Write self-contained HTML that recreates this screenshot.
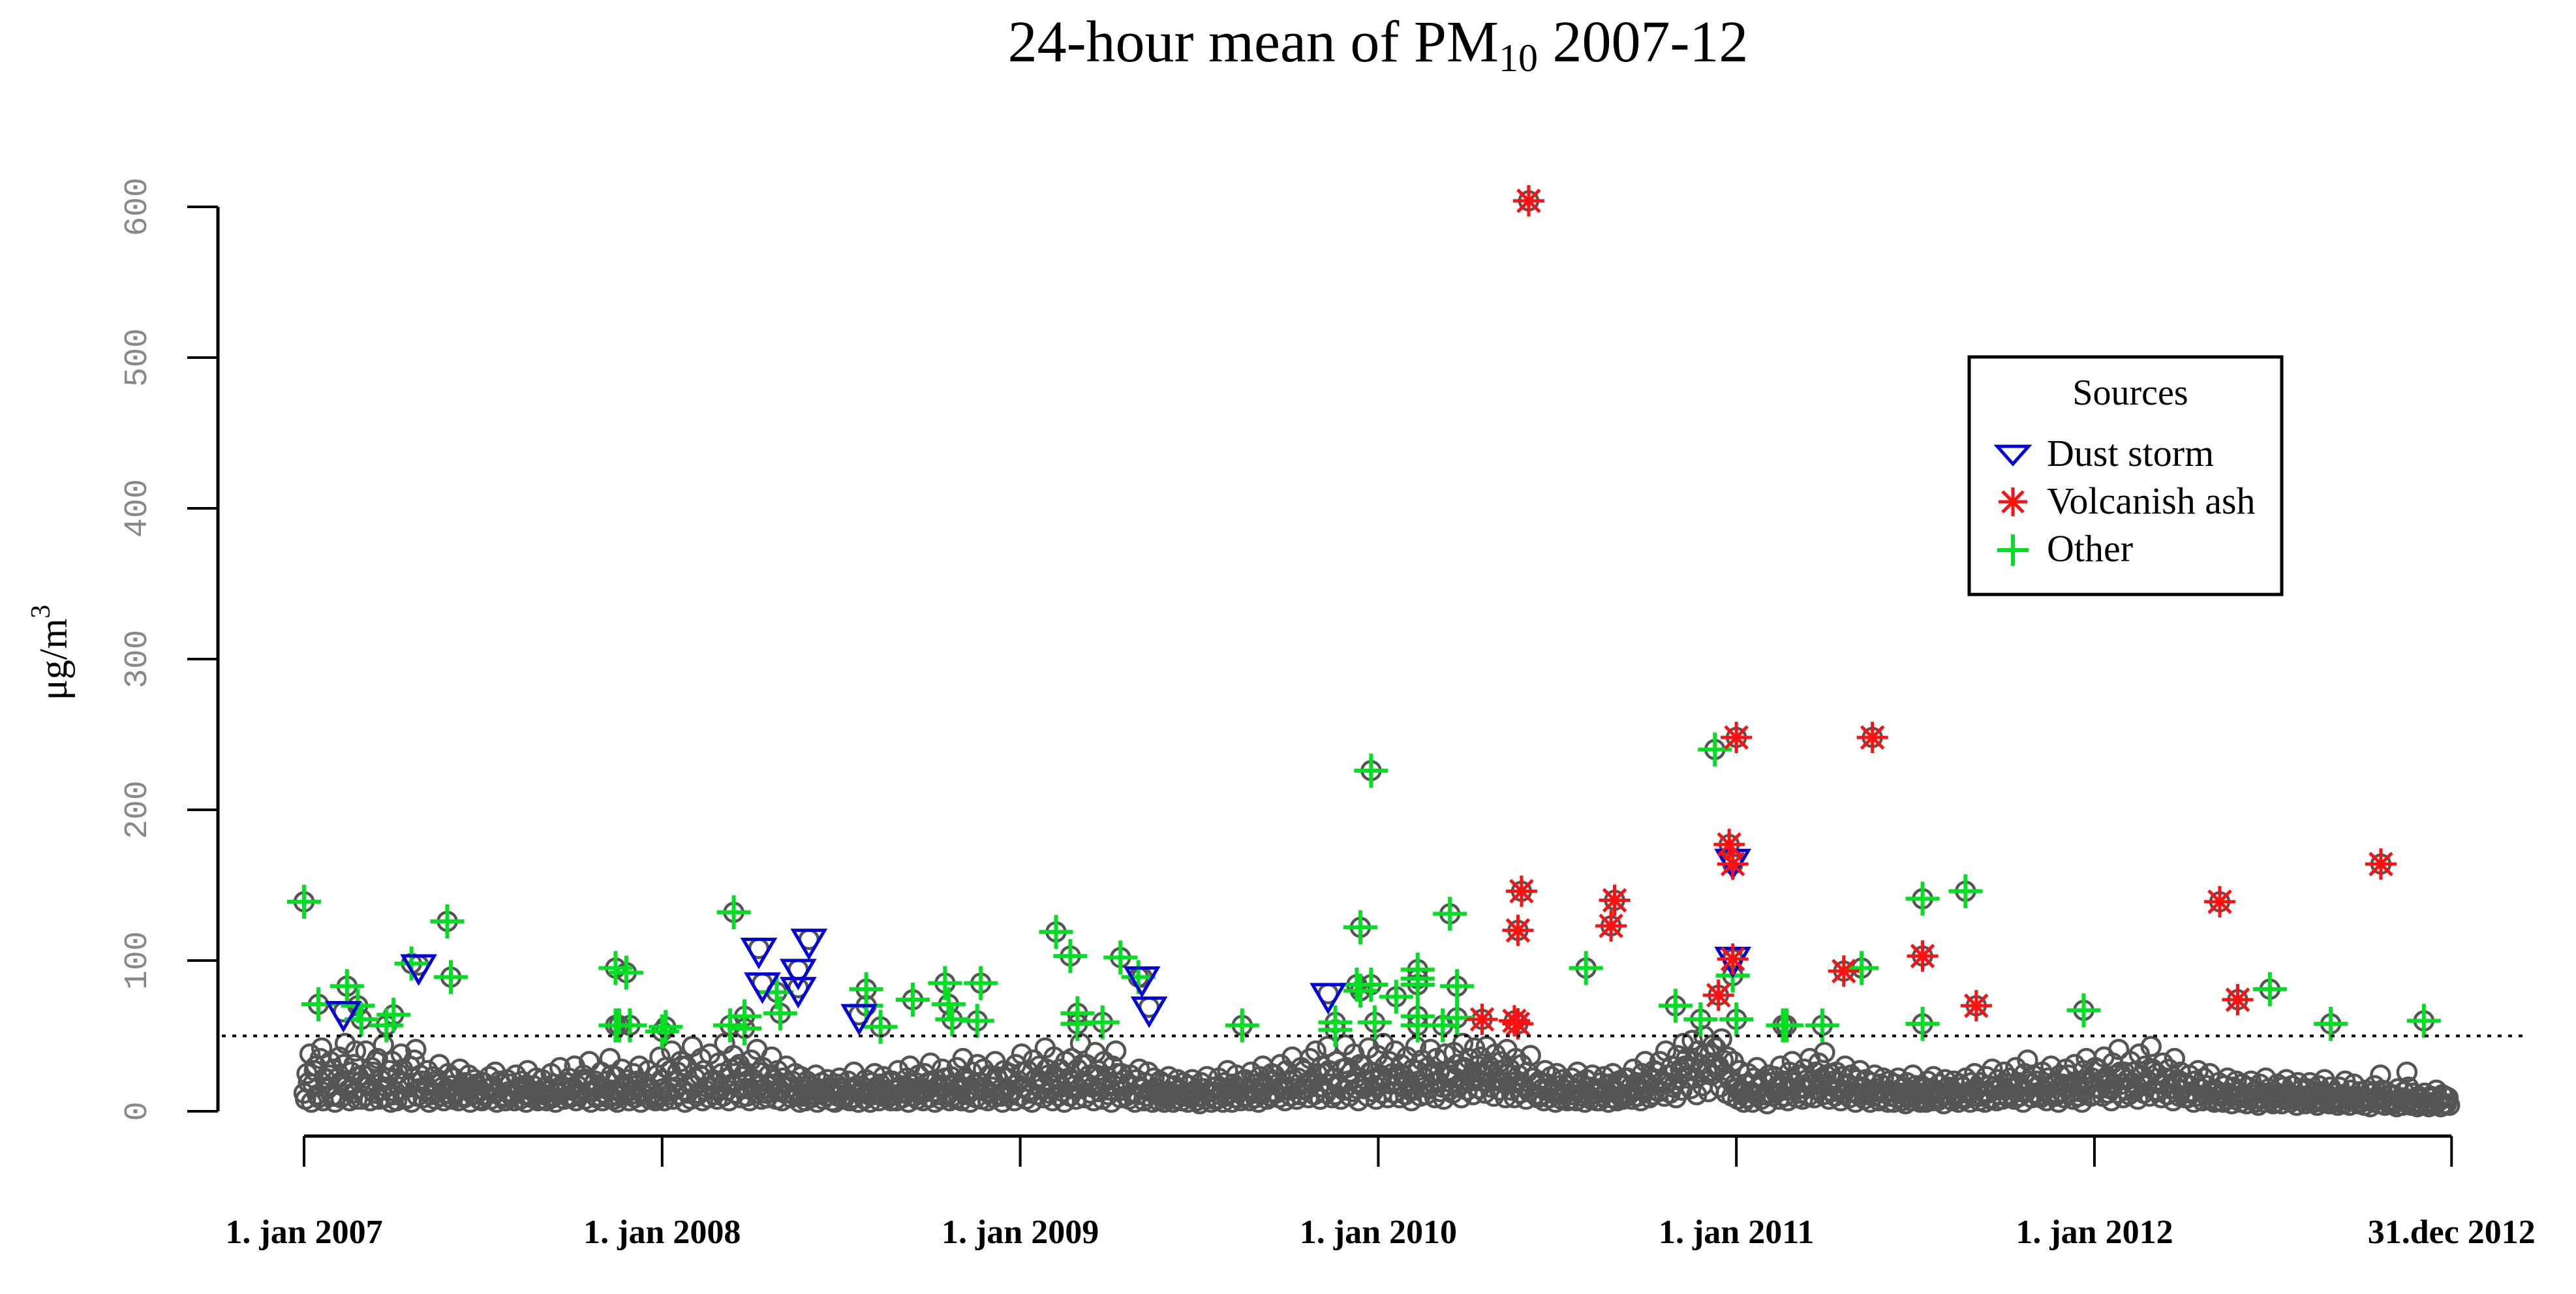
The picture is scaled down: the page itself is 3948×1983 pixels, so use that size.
<!DOCTYPE html>
<html><head><meta charset="utf-8"><style>
html,body{margin:0;padding:0;background:#fff}
svg{display:block}
</style></head><body>
<svg id="chart" xmlns="http://www.w3.org/2000/svg" width="3948" height="1983" viewBox="0 0 3948 1983">
<rect width="3948" height="1983" fill="#fff"/>
<text x="2112" y="94" text-anchor="middle" font-family="Liberation Serif, serif" font-size="90" fill="#000">24-hour mean of PM<tspan font-size="60" dy="15">10</tspan><tspan dy="-15"> 2007-12</tspan></text>
<text transform="translate(102,1000) rotate(-90)" text-anchor="middle" font-family="Liberation Serif, serif" font-size="60" fill="#000">μg/m<tspan font-size="42" dy="-26">3</tspan></text>
<g id="grey"></g>
<g id="green"></g>
<g id="blue"></g>
<g id="red"></g>
<g id="axes"></g>
<g>
<rect x="3018" y="547" width="479" height="364" fill="#fff" stroke="#000" stroke-width="5"/>
<text x="3265" y="620" text-anchor="middle" font-family="Liberation Serif, serif" font-size="56">Sources</text>
<g>
<polygon points="3061,684 3109,684 3085,711" fill="none" stroke="#0000dd" stroke-width="5"/>
<text x="3137" y="714" font-family="Liberation Serif, serif" font-size="58">Dust storm</text></g>
<g>
<path d="M3063,769H3107M3085,747V791M3069,753L3101,785M3101,753L3069,785" stroke="#ff1010" stroke-width="5"/>
<text x="3137" y="787" font-family="Liberation Serif, serif" font-size="58">Volcanish ash</text></g>
<g>
<path d="M3061,843H3109M3085,819V867" stroke="#00e020" stroke-width="6"/>
<text x="3137" y="860" font-family="Liberation Serif, serif" font-size="58">Other</text></g>
</g>
</svg>
<script>
// ---- data ----
const greyValues = [
12,25,38,18,30,9,42,22,15,33, 28,10,36,20,45,14,26,31,8,19, 24,40,17,29,12,35,21,44,16,27, 33,13,25,38,19,9,30,22,41,15,
20,14,27,11,23,18,31,16,12,25, 17,22,13,28,10,19,24,15,21,12, 14,19,11,23,16,26,13,18,10,21, 18,12,24,15,20,11,27,14,17,22,
13,21,16,10,25,18,12,29,15,19, 22,14,30,17,11,24,19,33,13,20, 16,26,12,20,35,14,23,10,28,18, 21,11,25,17,30,13,19,27,15,9,
24,36,15,29,11,40,20,26,33,14, 30,18,43,22,12,35,27,16,38,21, 19,32,25,45,14,28,37,20,31,23, 26,15,34,21,41,17,29,12,24,36,
18,27,13,22,30,16,20,25,11,23, 14,20,17,11,24,15,19,13,21,16, 12,18,22,15,10,20,14,26,17,13, 16,21,11,19,25,14,18,23,12,20,
20,14,27,17,12,22,30,15,19,24, 15,25,19,32,13,21,16,28,22,11, 23,17,29,14,35,20,12,26,18,31, 19,28,13,24,16,33,21,10,27,22,
25,14,31,20,38,16,27,12,34,22, 30,19,42,24,15,36,21,28,13,33, 22,35,17,28,45,20,31,24,16,39, 27,18,33,23,14,30,40,19,25,21,
17,24,12,21,28,15,19,26,13,22, 15,20,13,18,23,11,17,21,14,19, 12,17,21,14,10,19,15,23,13,16, 16,22,13,19,27,12,18,24,15,20,
21,15,26,18,12,23,30,16,20,25, 24,18,31,14,27,20,36,15,22,29, 27,19,35,22,40,16,30,25,43,18, 22,33,17,28,44,20,26,38,15,31,
30,21,42,26,17,37,24,45,19,33, 25,40,18,31,23,36,14,28,43,20, 34,22,29,41,19,35,26,16,38,27, 24,39,31,18,45,28,35,22,42,30,
36,25,43,30,20,38,27,33,19,41, 28,19,35,24,31,16,26,37,22,18, 20,15,27,18,23,13,25,17,21,14, 17,22,14,26,19,12,21,16,24,15,
15,19,23,13,18,25,14,20,17,22, 22,16,28,19,14,25,33,18,21,27, 26,33,20,40,24,30,18,37,28,45, 35,28,47,22,40,31,50,26,38,44,
42,30,48,25,36,20,33,15,27,12, 18,25,13,22,29,16,21,11,24,19, 23,17,30,20,14,26,33,19,24,16, 28,21,35,18,26,32,22,39,17,25,
20,26,15,23,30,18,24,13,21,27, 16,21,13,19,24,15,18,22,12,20, 13,18,22,15,11,19,14,24,17,12, 17,12,20,15,23,14,18,11,21,16,
14,20,12,18,16,22,13,19,25,15, 19,13,23,17,28,14,21,16,26,18, 22,16,29,19,13,25,34,18,24,20, 17,26,14,22,30,19,12,24,18,28,
24,16,31,20,13,27,35,19,22,29, 28,20,36,23,15,32,24,41,18,26, 21,33,26,17,38,24,30,20,43,27, 25,18,32,22,28,15,35,21,26,19,
18,24,13,20,27,15,22,17,25,12, 14,19,12,17,22,11,16,20,13,18, 11,16,20,13,9,18,12,22,15,10, 13,18,10,16,21,12,17,9,19,14,
10,15,19,12,8,17,13,21,11,16, 12,8,16,11,20,9,14,18,10,13, 9,14,7,12,17,10,24,8,13,11, 11,7,15,9,13,26,8,12,6,10,
8,12,6,10,9,14,7,11,10,9];
const greyValuesB = [
8,19,6,27,11,35,7,16,24,10, 6,22,9,31,17,7,12,40,23,8, 10,18,7,26,33,8,14,9,22,6, 11,7,20,28,8,16,6,34,10,24,
9,17,6,13,8,21,10,7,15,9, 8,12,7,17,9,14,6,11,18,8, 7,10,15,8,12,6,20,9,7,13, 10,7,14,8,17,6,11,9,13,7,
8,11,7,14,9,6,12,17,8,10, 9,16,7,12,21,8,13,6,18,9, 10,7,15,9,24,8,6,13,11,16, 7,14,9,20,6,11,16,8,12,7,
9,21,7,13,27,8,16,11,30,6, 12,8,17,10,24,7,14,9,20,11, 8,14,10,22,7,18,12,29,9,15, 10,7,19,12,26,8,15,9,13,21,
8,15,7,12,19,9,11,14,6,10, 7,11,9,14,6,12,8,10,15,7, 6,10,13,8,11,7,9,15,6,12, 8,13,6,11,16,7,10,14,9,7,
11,7,15,9,13,6,18,10,8,12, 7,13,9,20,6,11,8,16,12,7, 10,8,16,7,22,11,6,14,9,19, 8,15,7,12,9,23,11,6,14,10,
12,7,18,10,26,8,14,6,21,11, 15,9,28,12,7,22,10,16,6,19, 10,20,8,15,31,9,18,12,7,24, 13,8,20,11,6,17,25,9,14,10,
8,12,6,11,16,7,10,14,6,12, 7,10,6,9,13,6,8,11,7,10, 6,9,12,7,5,10,8,13,6,8, 8,11,6,10,15,6,9,13,7,10,
10,7,14,9,6,12,18,8,10,13, 12,9,17,7,14,10,21,8,11,15, 14,9,20,11,25,8,16,12,27,9, 11,18,8,14,29,10,13,22,7,17,
15,10,26,13,8,21,12,30,9,18, 12,24,9,16,11,20,7,14,27,10, 18,11,15,26,9,20,13,8,23,14, 12,22,16,9,29,14,20,11,26,15,
20,12,27,16,10,22,14,19,9,25, 14,9,20,12,17,8,13,22,11,9, 10,7,14,9,12,6,13,8,11,7, 8,11,7,14,10,6,11,8,12,7,
7,10,12,6,9,13,7,10,8,11, 11,8,15,10,7,13,19,9,11,14, 13,19,10,24,12,16,9,22,14,30, 22,15,33,11,26,17,38,13,24,31,
28,16,34,12,22,10,18,8,14,6, 9,13,6,11,16,8,11,5,12,10, 12,8,16,10,7,14,19,9,12,8, 15,10,20,9,14,18,11,24,8,13,
10,14,7,12,17,9,13,6,11,15, 8,11,6,10,13,7,9,12,6,10, 6,9,12,7,5,10,7,13,8,6, 8,6,10,7,12,7,9,5,11,8,
7,10,6,9,8,12,6,10,14,7, 10,6,12,8,16,7,11,8,14,9, 11,8,16,10,6,13,20,9,12,10, 9,14,7,11,17,10,6,13,9,16,
12,8,17,10,6,14,21,10,11,16, 15,10,20,12,7,18,12,26,9,14, 11,19,14,8,23,12,17,10,28,14, 13,9,18,11,15,7,20,10,14,9,
9,12,6,10,15,7,11,8,13,6, 7,10,6,8,12,5,8,10,6,9, 5,8,11,6,4,9,6,12,7,5, 6,9,5,8,11,6,8,4,10,7,
5,7,10,6,4,8,6,11,5,8, 6,4,8,5,10,4,7,9,5,6, 4,7,3,6,9,5,14,4,6,5, 5,3,8,4,6,16,4,6,3,5,
4,6,3,5,4,7,3,5,5,4];
const greyStepDays = 3;

const otherDates = [2007.00,2007.04,2007.12,2007.15,2007.16,2007.23,2007.25,2007.30,2007.40,2007.41,2007.87,2007.88,2007.90,2007.87,2007.91,2008.01,2008.00,2008.19,2008.20,2008.23,2008.23,2008.32,2008.33,2008.57,2008.57,2008.61,2008.70,2008.79,2008.80,2008.81,2008.88,2008.89,
2009.10,2009.14,2009.16,2009.16,2009.23,2009.28,2009.33,2009.62,2009.88,2009.88,2009.94,2009.95,2009.95,2009.98,2009.98,2009.99,2010.05,2010.11,2010.11,2010.11,2010.11,2010.11,2010.18,2010.20,2010.22,2010.22,2010.58,2010.83,2010.90,2010.94,2010.99,2011.00,2011.13,2011.14,2011.24,2011.35,2011.52,2011.52,2011.64,2011.97,2012.49,2012.66,2012.92];
const otherValues = [139,71,83,70,61,57,64,98,126,89,95,57,92,57,57,56,53,57,132,63,55,79,65,81,70,56,74,85,71,61,60,85,
119,103,65,58,59,102,89,57,59,54,84,122,80,84,226,59,76,94,88,84,63,57,57,131,83,62,95,70,61,240,90,61,57,57,57,95,141,58,146,67,81,58,60];

const dustDates = [2007.11,2007.32,2008.27,2008.41,2008.28,2008.38,2008.38,2008.55,2009.34,2009.36,2009.86,2010.99,2010.99];
const dustValues = [66,97,108,114,85,94,82,64,89,69,78,167,102];

const ashDates = [2010.29,2010.38,2010.39,2010.40,2010.39,2010.42,2010.66,2010.65,2010.95,2010.98,2010.99,2010.99,2011.00,2011.30,2011.38,2011.52,2011.67,2012.35,2012.40,2012.80];
const ashValues = [61,60,58,146,120,604,140,123,77,177,164,101,248,93,248,103,70,139,74,164];

const yTicks = [0,100,200,300,400,500,600];
const xTickDates = [2007,2008,2009,2010,2011,2012,2012.9973];
const xTickLabels = ["1. jan 2007","1. jan 2008","1. jan 2009","1. jan 2010","1. jan 2011","1. jan 2012","31.dec 2012"];
const threshold = 50;

// ---- scales ----
const X0=466, X1=3758, Y0=1703, Y600=317;
function xScale(t){ return X0 + (t-2007)/(2191/365.25)*(X1-X0); }
function yScale(v){ return Y0 - v*(Y0-Y600)/600; }
const NS="http://www.w3.org/2000/svg";
function mk(tag, attrs, parent){ const e=document.createElementNS(NS,tag); for(const k in attrs) e.setAttribute(k,attrs[k]); parent.appendChild(e); return e; }

const gGrey=document.getElementById('grey'), gGreen=document.getElementById('green'),
      gBlue=document.getElementById('blue'), gRed=document.getElementById('red'), gAx=document.getElementById('axes');

function circle(t,v){
  const c=mk('circle',{cx:xScale(t),cy:yScale(v),r:14,fill:'none',stroke:'#555','stroke-width':4.5},gGrey);
  
  
}
greyValues.forEach((v,i)=>circle(2007+i*greyStepDays/365.25, v));
greyValuesB.forEach((v,i)=>circle(2007+(i*greyStepDays+1.5)/365.25, v));
otherDates.forEach((t,i)=>circle(t,otherValues[i]));
dustDates.forEach((t,i)=>circle(t,dustValues[i]));
ashDates.forEach((t,i)=>circle(t,ashValues[i]));

otherDates.forEach((t,i)=>{
  const x=xScale(t), y=yScale(otherValues[i]);
  const p=mk('path',{d:`M${x-26},${y}H${x+26}M${x},${y-26}V${y+26}`,stroke:'#00e020','stroke-width':6},gGreen);
  
  
});
dustDates.forEach((t,i)=>{
  const x=xScale(t), y=yScale(dustValues[i]);
  const p=mk('polygon',{points:`${x-24},${y-14} ${x+24},${y-14} ${x},${y+27}`,fill:'none',stroke:'#0000dd','stroke-width':5},gBlue);
  
  
});
ashDates.forEach((t,i)=>{
  const x=xScale(t), y=yScale(ashValues[i]);
  const p=mk('path',{d:`M${x-24},${y}H${x+24}M${x},${y-24}V${y+24}M${x-17},${y-17}L${x+17},${y+17}M${x+17},${y-17}L${x-17},${y+17}`,stroke:'#ff1010','stroke-width':5},gRed);
  
  
});

// threshold line
const th=mk('line',{x1:340,x2:3870,y1:yScale(threshold),y2:yScale(threshold),stroke:'#000','stroke-width':4,'stroke-dasharray':'6 10'},gAx);



// y axis
const ya=mk('line',{x1:334,x2:334,y1:yScale(600),y2:yScale(0),stroke:'#000','stroke-width':5},gAx);


yTicks.forEach(v=>{
  const y=yScale(v);
  const tk=mk('line',{x1:287,x2:334,y1:y,y2:y,stroke:'#000','stroke-width':4},gAx);
  
  
  const tx=mk('text',{transform:`translate(224,${y}) rotate(-90)`,'text-anchor':'middle','font-family':'Liberation Mono, monospace','font-size':50,fill:'#888'},gAx);
  tx.textContent=String(v);
  
  
});

// x axis
const xa=mk('line',{x1:xScale(xTickDates[0]),x2:xScale(xTickDates[xTickDates.length-1]),y1:1741,y2:1741,stroke:'#000','stroke-width':5},gAx);


xTickDates.forEach((t,i)=>{
  const x=xScale(t);
  const tk=mk('line',{x1:x,x2:x,y1:1741,y2:1788,stroke:'#000','stroke-width':4},gAx);
  
  
  const tx=mk('text',{x:x,y:1905,'text-anchor':'middle','font-family':'Liberation Serif, serif','font-size':52,'font-weight':'bold',fill:'#000'},gAx);
  tx.textContent=xTickLabels[i];
  
  
});
</script>
</body></html>
